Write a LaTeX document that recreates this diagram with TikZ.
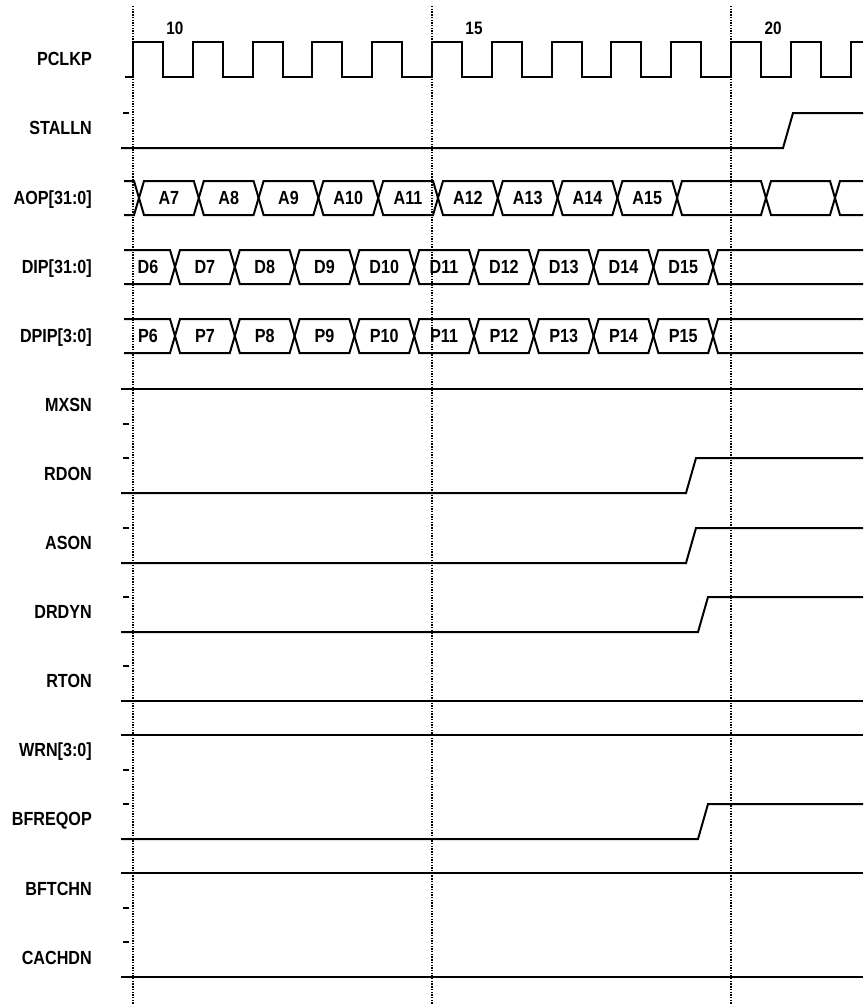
\documentclass[tikz,border=0pt]{standalone}
\usepackage{fontspec}
\newfontfamily\tdfont[FakeStretch=0.85]{Liberation Sans}
\usepackage{tikz}
\tikzset{
  wave_s/.style = {line width=2pt, line join=miter},
  grid_d/.style = {line width=1.4pt, dash pattern=on 1.4pt off 1.3pt},
  sig_n/.style = {anchor=east, inner sep=0pt, text height=13.6pt, text depth=0pt, font=\tdfont\bfseries\fontsize{19}{19}\selectfont},
  bus_n/.style = {inner sep=0pt, text height=13.6pt, text depth=0pt, font=\tdfont\bfseries\fontsize{19}{19}\selectfont},
  cyc_n/.style = {inner sep=0pt, font=\tdfont\bfseries\fontsize{18}{18}\selectfont}
}

\begin{document}
\begin{tikzpicture}[x=1pt, y=-1pt]
  \useasboundingbox (0,0) rectangle (863,1004);
  % cycle marks
  \foreach \cx/\cn in {133/10, 432/15, 731/20}{
    \draw[grid_d] (\cx,6) -- (\cx,1004);
    \node[cyc_n] (cyc_\cn) at ({\cx+42},28) {\cn};
  }
  % signal names
  \foreach \k/\nm/\txt in {0/pclkp/PCLKP, 1/stalln/STALLN, 2/aop/{AOP[31:0]}, 3/dip/{DIP[31:0]},
      4/dpip/{DPIP[3:0]}, 5/mxsn/MXSN, 6/rdon/RDON, 7/ason/ASON, 8/drdyn/DRDYN, 9/rton/RTON,
      10/wrn/{WRN[3:0]}, 11/bfreqop/BFREQOP, 12/bftchn/BFTCHN, 13/cachdn/CACHDN}{
    \node[sig_n] (lbl_\nm) at (92,{59+69.1*\k}) {\txt};
  }
  % clock
  \draw[wave_s] (125,77) \foreach \k in {0,...,11}{
      -- ({133+59.8*\k},77) -- ({133+59.8*\k},42) -- ({162.9+59.8*\k},42) -- ({162.9+59.8*\k},77) }
    -- (850.6,77) -- (850.6,42) -- (863,42);
  % steady lines
  \foreach \ya/\yb in {389/424, 701/666, 735/770, 873/908, 977/942}{
    \draw[wave_s] (121,\ya) -- (863,\ya);
    \draw[wave_s] (123,\yb) -- (129,\yb);
  }
  % rising lines
  \foreach \yl/\yh/\xr in {148/113/783, 493/458/686, 563/528/686, 632/597/698, 839/804/698}{
    \draw[wave_s] (121,\yl) -- (\xr,\yl) -- ({\xr+10},\yh) -- (863,\yh);
    \draw[wave_s] (123,\yh) -- (129,\yh);
  }
  % AOP
  \draw[wave_s] (124,181) -- (134,181) -- (139,198) -- (134,215) -- (124,215);
  \foreach \k [evaluate=\k as \xa using 139+59.8*\k, evaluate=\k as \xb using 198.8+59.8*\k,
      evaluate=\k as \an using int(7+\k)] in {0,...,8}{
    \draw[wave_s] (\xa,198) -- ({\xa+5},181) -- ({\xb-5},181) -- (\xb,198) -- ({\xb-5},215) -- ({\xa+5},215) -- cycle;
    \node[bus_n] (aop_\an) at ({(\xa+\xb)/2},198) {A\an};
  }
  \foreach \xa/\xb in {677/766, 766/835}{
    \draw[wave_s] (\xa,198) -- ({\xa+5},181) -- ({\xb-5},181) -- (\xb,198) -- ({\xb-5},215) -- ({\xa+5},215) -- cycle;
  }
  \draw[wave_s] (863,181) -- (840,181) -- (835,198) -- (840,215) -- (863,215);
  % DIP and DPIP
  \foreach \yt/\yb/\pf/\nm in {250/284/D/dip, 319/353/P/dpip}{
    \draw[wave_s] (124,\yt) -- (170,\yt) -- (175,{(\yt+\yb)/2}) -- (170,\yb) -- (124,\yb);
    \node[bus_n] (\nm_6) at (148,{(\yt+\yb)/2}) {\pf6};
    \foreach \k [evaluate=\k as \xa using 175+59.8*\k, evaluate=\k as \xb using 234.8+59.8*\k,
        evaluate=\k as \dn using int(7+\k)] in {0,...,8}{
      \draw[wave_s] (\xa,{(\yt+\yb)/2}) -- ({\xa+5},\yt) -- ({\xb-5},\yt) -- (\xb,{(\yt+\yb)/2})
        -- ({\xb-5},\yb) -- ({\xa+5},\yb) -- cycle;
      \node[bus_n] (\nm_\dn) at ({(\xa+\xb)/2},{(\yt+\yb)/2}) {\pf\dn};
    }
    \draw[wave_s] (863,\yt) -- (718,\yt) -- (713,{(\yt+\yb)/2}) -- (718,\yb) -- (863,\yb);
  }
\end{tikzpicture}
\end{document}
